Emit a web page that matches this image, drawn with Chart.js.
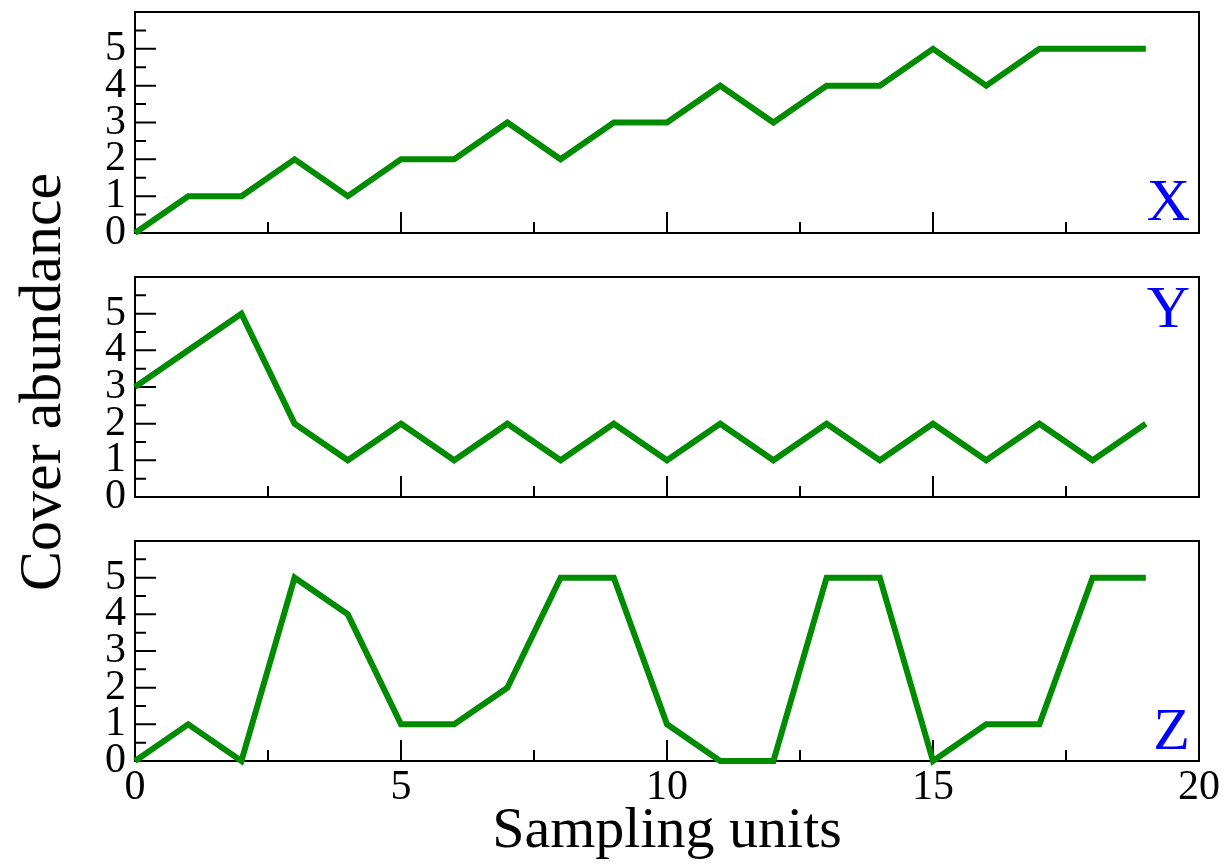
<!DOCTYPE html>
<html lang="en">
<head>
    <meta charset="UTF-8">
    <title>Cover abundance</title>
    <script src="https://cdn.jsdelivr.net/npm/chart.js"></script>
    <style>
        body {
            margin: 0;
            background: #fff;
        }
        #wrap {
            position: relative;
            width: 1224px;
            height: 867px;
        }
        canvas {
            position: absolute;
            left: 0;
        }
        #ytitle {
            position: absolute;
            left: 40px;
            top: 382px;
            font: 60px 'Liberation Serif', 'Times New Roman', serif;
            line-height: 1;
            white-space: nowrap;
            transform: translate(-50%, -50%) rotate(-90deg);
        }
    </style>
</head>
<body>
    <div id="wrap">
        <canvas id="panelX" width="1224" height="260" style="top:0"></canvas>
        <canvas id="panelY" width="1224" height="260" style="top:260px"></canvas>
        <canvas id="panelZ" width="1224" height="347" style="top:520px"></canvas>
        <div id="ytitle">Cover abundance</div>
    </div>

    <script>
        // sampling units and the three species
        const units = [0, 1, 2, 3, 4, 5, 6, 7, 8, 9, 10, 11, 12, 13, 14, 15, 16, 17, 18, 19];
        const speciesX = [0, 1, 1, 2, 1, 2, 2, 3, 2, 3, 3, 4, 3, 4, 4, 5, 4, 5, 5, 5];
        const speciesY = [3, 4, 5, 2, 1, 2, 1, 2, 1, 2, 1, 2, 1, 2, 1, 2, 1, 2, 1, 2];
        const speciesZ = [0, 1, 0, 5, 4, 1, 1, 2, 5, 5, 1, 0, 0, 5, 5, 0, 1, 1, 5, 5];

        // ticks
        const xTickLabels = [0, 5, 10, 15, 20];
        const xMinorTicks = [2.5, 7.5, 12.5, 17.5];
        const yTickLabels = [0, 1, 2, 3, 4, 5];
        const yMajorTicks = [0, 1, 2, 3, 4, 5, 6];
        const yMinorTicks = [0.5, 1.5, 2.5, 3.5, 4.5, 5.5];

        const lineColor = 'rgb(0, 139, 0)';
        const serif = "'Liberation Serif', 'Times New Roman', serif";

        // box, inward ticks and the panel letter
        const panelDecor = {
            id: 'panelDecor',
            beforeDatasetsDraw(chart, args, opts) {
                const { ctx, chartArea: a, scales: { x, y } } = chart;
                ctx.save();
                ctx.strokeStyle = '#000';
                ctx.lineWidth = 2;
                ctx.beginPath();
                xTickLabels.forEach(v => {
                    const px = x.getPixelForValue(v);
                    ctx.moveTo(px, a.bottom);
                    ctx.lineTo(px, a.bottom - 21);
                });
                xMinorTicks.forEach(v => {
                    const px = x.getPixelForValue(v);
                    ctx.moveTo(px, a.bottom);
                    ctx.lineTo(px, a.bottom - 11);
                });
                yMajorTicks.forEach(v => {
                    const py = y.getPixelForValue(v);
                    ctx.moveTo(a.left, py);
                    ctx.lineTo(a.left + 21, py);
                });
                yMinorTicks.forEach(v => {
                    const py = y.getPixelForValue(v);
                    ctx.moveTo(a.left, py);
                    ctx.lineTo(a.left + 11, py);
                });
                ctx.stroke();
                ctx.strokeRect(a.left, a.top, a.right - a.left, a.bottom - a.top);

                ctx.fillStyle = 'rgb(0, 0, 255)';
                ctx.font = '60px ' + serif;
                ctx.textAlign = 'right';
                ctx.textBaseline = 'alphabetic';
                const ty = opts.at === 'top' ? a.top + opts.dy : a.bottom - opts.dy;
                ctx.fillText(opts.text, a.right - 9, ty);
                ctx.restore();
            }
        };

        function makePanel(id, values, name, at, dy, areaTop, xHeight, showX) {
            return new Chart(document.getElementById(id), {
                type: 'line',
                data: {
                    datasets: [{
                        data: units.map((u, i) => ({ x: u, y: values[i] })),
                        borderColor: lineColor,
                        borderWidth: 6,
                        pointRadius: 0,
                        tension: 0,
                        clip: false
                    }]
                },
                options: {
                    responsive: false,
                    animation: false,
                    events: [],
                    layout: { padding: { top: areaTop, right: 25, left: 0, bottom: 0 } },
                    plugins: {
                        legend: { display: false },
                        tooltip: { enabled: false },
                        panelDecor: { text: name, at: at, dy: dy }
                    },
                    scales: {
                        x: {
                            type: 'linear',
                            min: 0,
                            max: 20,
                            grid: { display: false, drawTicks: false },
                            border: { display: false },
                            afterBuildTicks: s => { s.ticks = xTickLabels.map(v => ({ value: v })); },
                            ticks: {
                                display: showX,
                                color: '#000',
                                font: { family: serif, size: 42 },
                                padding: 2,
                                maxRotation: 0,
                                autoSkip: false
                            },
                            title: {
                                display: showX,
                                text: 'Sampling units',
                                color: '#000',
                                font: { family: serif, size: 58 },
                                padding: 0
                            },
                            afterFit: s => {
                                s.height = xHeight;
                                s.paddingLeft = 0;
                                s.paddingRight = 0;
                            }
                        },
                        y: {
                            min: 0,
                            max: 6,
                            grid: { display: false, drawTicks: false },
                            border: { display: false },
                            afterBuildTicks: s => { s.ticks = yTickLabels.map(v => ({ value: v })); },
                            ticks: {
                                color: '#000',
                                font: { family: serif, size: 42 },
                                padding: 9,
                                autoSkip: false
                            },
                            afterFit: s => {
                                s.width = 135;
                                s.paddingTop = 0;
                                s.paddingBottom = 0;
                            }
                        }
                    }
                },
                plugins: [panelDecor]
            });
        }

        makePanel('panelX', speciesX, 'X', 'bottom', 13, 12, 27, false);
        makePanel('panelY', speciesY, 'Y', 'top', 50, 17, 23, false);
        makePanel('panelZ', speciesZ, 'Z', 'bottom', 12, 21, 106, true);
    </script>
</body>
</html>
